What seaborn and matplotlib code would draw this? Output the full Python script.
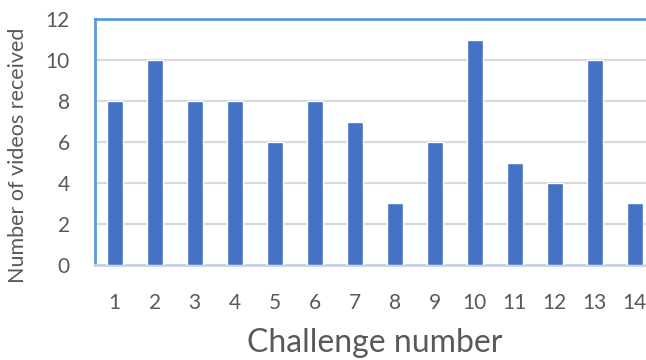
import matplotlib
matplotlib.use("Agg")
import matplotlib.pyplot as plt
import seaborn as sns
import pandas as pd

# Videos received per challenge
challenges = ["1", "2", "3", "4", "5", "6", "7", "8", "9", "10", "11", "12", "13", "14"]
videos = [8, 10, 8, 8, 6, 8, 7, 3, 6, 11, 5, 4, 10, 3]
y_ticks = [0, 2, 4, 6, 8, 10, 12]

df = pd.DataFrame({"challenge": challenges, "videos": videos})

sns.set_theme(style="white")
plt.rcParams["font.family"] = ["Lato", "DejaVu Sans"]

text_grey = "#595959"
bar_blue = "#4472C4"
frame_blue = "#5B9BD5"

fig = plt.figure(figsize=(6.46, 3.60), dpi=100)
ax = fig.add_axes([0.1466, 0.2639, 0.8669, 0.6833])

sns.barplot(data=df, x="challenge", y="videos", order=challenges,
            color=bar_blue, saturation=1, width=0.4, ax=ax, zorder=3)

ax.set_xlim(-0.5, len(challenges) - 0.5)
ax.set_ylim(0, 12)
ax.set_yticks(y_ticks)
ax.yaxis.grid(True, color="#D9D9D9", linewidth=1.6, zorder=0)
ax.set_axisbelow(True)

ax.tick_params(axis="both", length=0, labelsize=15, labelcolor=text_grey)
ax.tick_params(axis="y", pad=18)
ax.tick_params(axis="x", pad=20)

ax.set_xlabel("Challenge number", fontsize=23, color=text_grey, labelpad=11)
ax.set_ylabel("Number of videos received", fontsize=15.5, color=text_grey)
ax.yaxis.set_label_coords(-0.119, 0.447)

for side in ("left", "top", "right"):
    ax.spines[side].set_color(frame_blue)
    ax.spines[side].set_linewidth(2)
ax.spines["bottom"].set_color("#C9D3E0")
ax.spines["bottom"].set_linewidth(2)

fig.savefig("out.png", dpi=100)
